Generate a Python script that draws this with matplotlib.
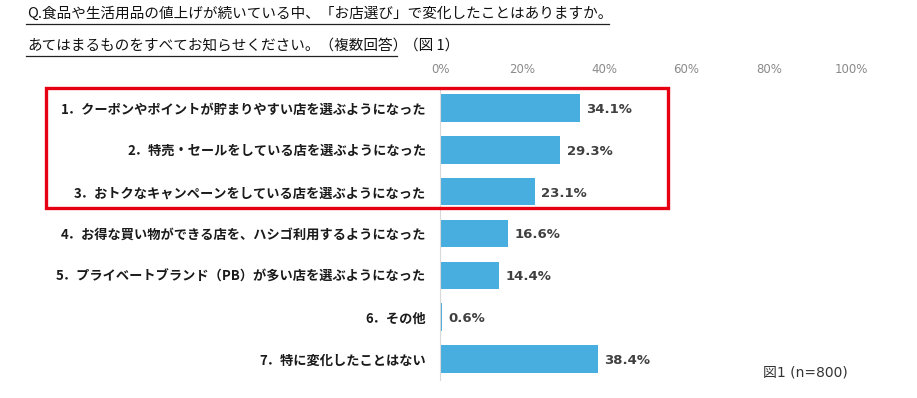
import matplotlib
matplotlib.use("Agg")
import matplotlib.pyplot as plt
from matplotlib.lines import Line2D
from matplotlib.patches import Rectangle

plt.rcParams['font.family'] = ['Noto Sans CJK JP', 'DejaVu Sans']

categories = [
    "1．クーポンやポイントが貯まりやすい店を選ぶようになった",
    "2．特売・セールをしている店を選ぶようになった",
    "3．おトクなキャンペーンをしている店を選ぶようになった",
    "4．お得な買い物ができる店を、ハシゴ利用するようになった",
    "5．プライベートブランド（PB）が多い店を選ぶようになった",
    "6．その他",
    "7．特に変化したことはない",
]
values = [34.1, 29.3, 23.1, 16.6, 14.4, 0.6, 38.4]
ticks = [0, 20, 40, 60, 80, 100]

W, H = 917, 398
fig = plt.figure(figsize=(W / 100, H / 100), dpi=100)


def fx(px):
    return px / W


def fy(py):
    return 1 - py / H


# axes placed so 0% sits at x=440px and 100% at x=851px
ax = fig.add_axes([fx(440), fy(380), fx(411), 293 / H])

y = range(len(values))
ax.barh(y, values, height=0.66, color="#48AEDF")
ax.set_xlim(0, 100)
ax.set_ylim(len(values) - 0.5, -0.5)

ax.set_yticks(list(y))
ax.set_yticklabels(categories, fontsize=9.5, fontweight="bold", color="#1a1a1a")
ax.tick_params(axis="y", length=0, pad=10)

ax.xaxis.tick_top()
ax.set_xticks(ticks)
ax.set_xticklabels([f"{t}%" for t in ticks], family="DejaVu Sans")
ax.tick_params(axis="x", length=0, pad=8, labelsize=8.5, labelcolor="#8a8a8a")

for s in ["top", "right", "bottom"]:
    ax.spines[s].set_visible(False)
ax.spines["left"].set_color("#d9d9d9")
ax.spines["left"].set_linewidth(0.8)

for yi, v in zip(y, values):
    ax.annotate(f"{v}%", (v, yi), xytext=(4.5, -1), textcoords="offset points",
                va="center", ha="left", fontsize=9.5, fontweight="bold",
                color="#404040", family="DejaVu Sans")

# question title with underlines
fig.text(fx(27), fy(14), "Q.食品や生活用品の値上げが続いている中、「お店選び」で変化したことはありますか。",
         fontsize=10.5, va="center", ha="left", color="#111111")
fig.text(fx(27), fy(46), "あてはまるものをすべてお知らせください。（複数回答）",
         fontsize=10.5, va="center", ha="left", color="#111111")
fig.text(fx(404), fy(46), "（図 1）", fontsize=10.5, va="center", ha="left", color="#111111")
fig.add_artist(Line2D([fx(26), fx(609)], [fy(24), fy(24)], color="#222222", lw=0.9))
fig.add_artist(Line2D([fx(26), fx(397)], [fy(56), fy(56)], color="#222222", lw=0.9))

# red highlight box around top three
fig.add_artist(Rectangle((fx(46), fy(208)), fx(622), (208 - 88) / H,
                         transform=fig.transFigure, fill=False,
                         edgecolor="#E60012", lw=2.4))

fig.text(fx(763), fy(372), "図1 (n=800)", fontsize=10, va="center", ha="left",
         color="#333333", family=["DejaVu Sans", "Noto Sans CJK JP"])

fig.savefig("out.png", dpi=100)
